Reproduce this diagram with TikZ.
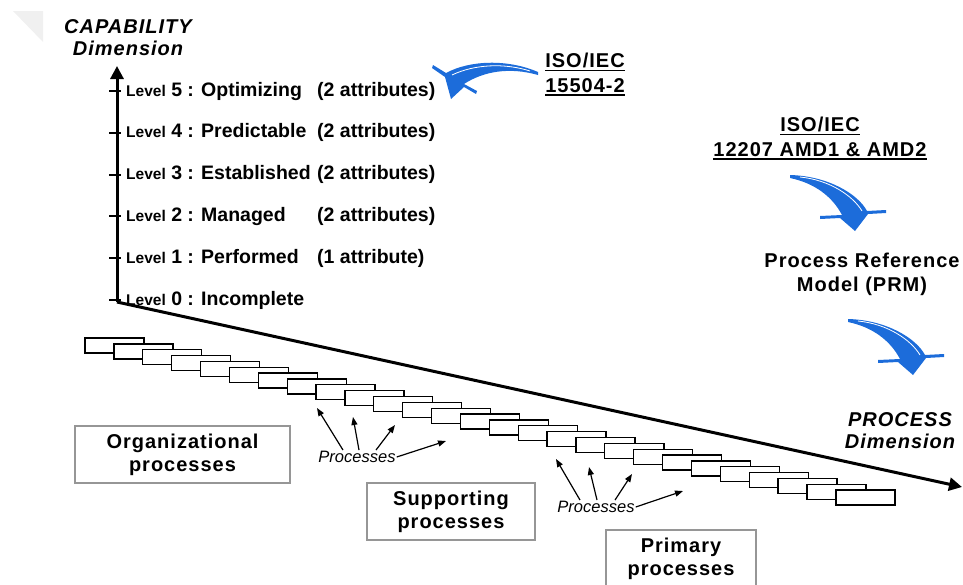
\documentclass[tikz,border=0pt]{standalone}
\usepackage{fontspec}
\setmainfont{Liberation Sans}
\newfontfamily\widefont{Liberation Sans}[LetterSpace=5]
\usetikzlibrary{arrows.meta}

\definecolor{clipblue}{RGB}{28,108,218}
\definecolor{framegray}{RGB}{150,150,150}

\tikzset{
  procbox/.style={draw, line width=1.3pt, fill=white, minimum width=59pt, minimum height=15pt, inner sep=0pt},
  groupbox/.style={draw=framegray, line width=1.3pt, align=center, inner sep=0pt, minimum height=57pt,
    font=\widefont\bfseries\fontsize{20}{23}\selectfont},
  levellab/.style={anchor=west, inner sep=0pt, font=\bfseries\fontsize{19.5}{22}\selectfont},
  dimlab/.style={align=center, inner sep=0pt, font=\widefont\bfseries\itshape\fontsize{20}{22}\selectfont},
  isolab/.style={inner sep=0pt, font=\widefont\bfseries\fontsize{20}{24}\selectfont},
  axisline/.style={line width=3pt, -{Triangle[length=13pt,width=13pt]}},
  ptr/.style={line width=1.2pt, -{Triangle[length=8pt,width=6pt]}},
  proclab/.style={inner sep=1pt, font=\itshape\fontsize{16.5}{19}\selectfont}
}

\begin{document}
\begin{tikzpicture}[x=1pt,y=-1pt]
  \useasboundingbox (0,0) rectangle (963,584);

  % page corner
  \fill[gray!12] (13,11) -- (43,11) -- (43,42) -- cycle;

  % axes
  \coordinate (O) at (117,302);
  \coordinate (captop) at (117,66);
  \coordinate (proctip) at (962,487);
  \draw[axisline] (O) -- (captop);
  \draw[axisline] (O) -- (proctip);

  \node[dimlab] (capdim) at (128,38) {CAPABILITY\\Dimension};
  \node[dimlab] (procdim) at (900,431) {PROCESS\\Dimension};

  % capability levels
  \foreach \n/\nm/\at in {5/Optimizing/(2 attributes), 4/Predictable/(2 attributes),
      3/Established/(2 attributes), 2/Managed/(2 attributes), 1/Performed/(1 attribute), 0/Incomplete/}
  {
    \draw[line width=2pt] (109,{300-41.8*\n}) -- (121,{300-41.8*\n});
    \node[levellab] (lev\n) at (126,{300-41.8*\n})
      {{\fontsize{15.5}{18}\selectfont Level} \n\ : \makebox[116pt][l]{\nm}\at};
  }

  % chain of processes
  \foreach \i in {0,...,26}
    \node[procbox] (p\i) at ({114.5+28.88*\i},{345.5+5.85*\i}) {};

  % standards
  \node[isolab] (isoa) at (585,60.5) {ISO/IEC};
  \node[isolab] (isob) at (585,85.5) {15504-2};
  \node[isolab] (isoc) at (820,124.5) {ISO/IEC};
  \node[isolab] (isod) at (820,149.5) {12207 AMD1 \& AMD2};
  \foreach \u in {isoa,isob,isoc,isod}
    \draw[line width=1.8pt] ([yshift=-3pt]\u.base west) -- ([yshift=-3pt]\u.base east);

  \node[isolab, align=center] (prm) at (862,274) {Process Reference\\Model (PRM)};

  % blue arrows
  \fill[clipblue] (538,72) .. controls (508,59) and (470,60) .. (446,73) -- (433,65) -- (432,68)
    -- (445,77) -- (451,99) -- (464,87) -- (476,94) -- (477,91) -- (464,84)
    .. controls (484,71) and (510,67) .. (538,75) -- cycle;
  \draw[white, line width=0.8pt] (530,71) .. controls (505,63) and (475,64) .. (452,75);
  \foreach \dx/\dy in {0/0,58/144}
  {
    \begin{scope}[shift={(\dx,\dy)}]
      \fill[clipblue] (790,175) .. controls (828,176) and (858,194) .. (867,211) -- (886,210) -- (886,213)
        -- (868,214) -- (855,231) -- (840,218) -- (820,219) -- (820,216) -- (842,215)
        .. controls (832,196) and (814,183) .. (790,178) -- cycle;
      \draw[white, line width=0.8pt] (800,177) .. controls (830,180) and (853,196) .. (862,211);
    \end{scope}
  }

  % process groups
  \node[groupbox, minimum width=215pt] (org) at (182.5,454.5) {Organizational\\processes};
  \node[groupbox, minimum width=168pt] (sup) at (451,511.5) {Supporting\\processes};
  \node[groupbox, minimum width=150pt] (pri) at (681,558.5) {Primary\\processes};

  % pointers
  \node[proclab] (pra) at (357,457) {Processes};
  \coordinate (ha) at (317,408);
  \coordinate (hb) at (353,417);
  \coordinate (hc) at (395,425);
  \coordinate (hd) at (446,441);
  \draw[ptr] ([xshift=-14pt]pra.north) -- (ha);
  \draw[ptr] ([xshift=2pt]pra.north) -- (hb);
  \draw[ptr] ([xshift=19pt]pra.north) -- (hc);
  \draw[ptr] (pra.east) -- (hd);

  \node[proclab] (prb) at (596,507) {Processes};
  \coordinate (he) at (556,459);
  \coordinate (hf) at (589,467);
  \coordinate (hg) at (632,474);
  \coordinate (hh) at (683,491);
  \draw[ptr] ([xshift=-16pt]prb.north) -- (he);
  \draw[ptr] ([xshift=1pt]prb.north) -- (hf);
  \draw[ptr] ([xshift=19pt]prb.north) -- (hg);
  \draw[ptr] (prb.east) -- (hh);
\end{tikzpicture}
\end{document}
